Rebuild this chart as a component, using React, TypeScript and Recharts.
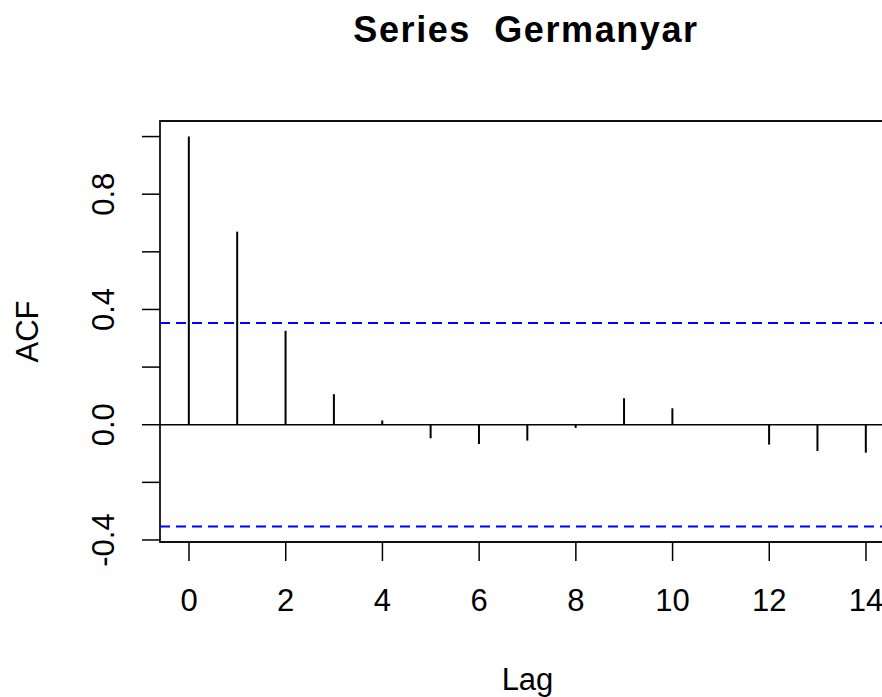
import React from 'react';
import { ComposedChart, Bar, XAxis, YAxis, ReferenceLine, ReferenceArea } from 'recharts';

const lags = [0, 1, 2, 3, 4, 5, 6, 7, 8, 9, 10, 11, 12, 13, 14];
const acfValues = [1.0, 0.670, 0.326, 0.106, 0.015, -0.047, -0.067, -0.055, -0.011, 0.092, 0.057, 0.002, -0.069, -0.091, -0.097];
const confLimit = 0.353;
const xTicks = [0, 2, 4, 6, 8, 10, 12, 14];
const yTicks = [-0.4, -0.2, 0, 0.2, 0.4, 0.6, 0.8, 1.0];
const yLabelled = [-0.4, 0, 0.4, 0.8];
const xDomain = [-0.6, 14.6];
const yDomain = [-0.407, 1.054];
const title = 'Series  Germanyar';
const xTitle = 'Lag';
const yTitle = 'ACF';

const data = lags.map((lag, i) => ({ lag, acf: acfValues[i] }));

const FONT = '"Liberation Sans", Arial, Helvetica, sans-serif';

const YTick = (props: any) => {
  const { x, y, payload } = props;
  const v = payload.value;
  const show = yLabelled.some((t) => Math.abs(t - v) < 1e-6);
  if (!show) return <g />;
  return (
    <text
      x={x}
      y={y}
      transform={`rotate(-90 ${x} ${y})`}
      textAnchor="middle"
      fontSize={31}
      fontFamily={FONT}
      fill="#000"
    >
      {v.toFixed(1)}
    </text>
  );
};

export default function App() {
  return (
    <div
      style={{
        position: 'absolute',
        left: 8,
        top: 8,
        width: 874,
        height: 689,
        overflow: 'hidden',
        background: '#fff',
      }}
    >
      <div
        style={{
          position: 'absolute',
          left: 218,
          top: 4,
          width: 600,
          textAlign: 'center',
          fontFamily: FONT,
          fontWeight: 'bold',
          fontSize: 36,
          lineHeight: '36px',
          letterSpacing: 1.6,
          whiteSpace: 'pre',
          color: '#000',
        }}
      >
        {title}
      </div>
      <ComposedChart
        width={900}
        height={689}
        data={data}
        margin={{ top: 113, right: 13, bottom: 0, left: 0 }}
      >
        <XAxis
          dataKey="lag"
          type="number"
          domain={xDomain}
          ticks={xTicks}
          allowDataOverflow
          axisLine={false}
          tickSize={19}
          tickMargin={28}
          height={155}
          tickLine={{ stroke: '#000', strokeWidth: 1.5 }}
          tick={{ fontSize: 31, fill: '#000', fontFamily: FONT }}
          interval={0}
          label={(p: any) => {
            const vb = p.viewBox;
            return (
              <text
                x={vb.x + vb.width / 2}
                y={vb.y + 148}
                textAnchor="middle"
                fontSize={31}
                fontFamily={FONT}
                fill="#000"
              >
                {xTitle}
              </text>
            );
          }}
        />
        <YAxis
          type="number"
          domain={yDomain}
          ticks={yTicks}
          allowDataOverflow
          axisLine={false}
          width={152}
          tickSize={18}
          tickMargin={27.5}
          interval={0}
          tickLine={{ stroke: '#000', strokeWidth: 1.5 }}
          tick={<YTick />}
          label={(p: any) => {
            const vb = p.viewBox;
            const cx = 30.3;
            const cy = vb.y + vb.height / 2;
            return (
              <text
                x={cx}
                y={cy}
                transform={`rotate(-90 ${cx} ${cy})`}
                textAnchor="middle"
                fontSize={31}
                fontFamily={FONT}
                fill="#000"
              >
                {yTitle}
              </text>
            );
          }}
        />
        <ReferenceArea
          x1={xDomain[0]}
          x2={xDomain[1]}
          y1={yDomain[0]}
          y2={yDomain[1]}
          fill="none"
          fillOpacity={0}
          stroke="#111"
          strokeWidth={1.8}
          ifOverflow="visible"
        />
        <ReferenceLine y={0} stroke="#000" strokeWidth={1.5} />
        <ReferenceLine y={confLimit} stroke="#0000FF" strokeWidth={2} strokeDasharray="10 6" />
        <ReferenceLine y={-confLimit} stroke="#0000FF" strokeWidth={2} strokeDasharray="10 6" />
        <Bar dataKey="acf" barSize={2} fill="#000" isAnimationActive={false} />
      </ComposedChart>
    </div>
  );
}
